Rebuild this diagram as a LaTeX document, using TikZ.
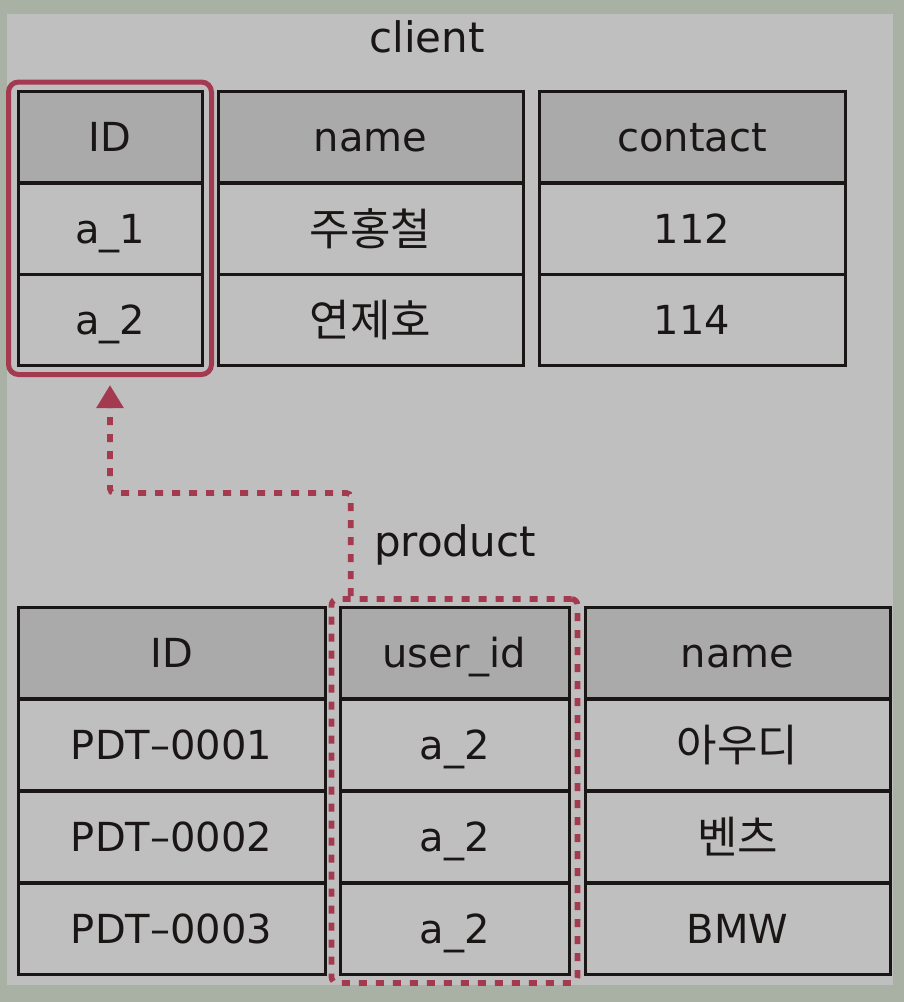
\documentclass[tikz,border=0pt]{standalone}
\usepackage{fontspec}
\setmainfont{DejaVu Sans}
\newfontfamily\kor[Scale=1.1]{Noto Sans CJK KR}
\newcommand{\hg}[1]{{\kor\raisebox{-1pt}{#1}}}
\usepackage{tikz}
\usetikzlibrary{arrows.meta,fit}
\definecolor{outerbg}{HTML}{A9B1A5}
\definecolor{innerbg}{HTML}{BFBFBF}
\definecolor{headbg}{HTML}{AAAAAA}
\definecolor{ink}{HTML}{1A1616}
\definecolor{keyred}{HTML}{A33A4F}

\begin{document}
\begin{tikzpicture}[>=Stealth,x=0.5pt,y=-0.5pt,
  font=\fontsize{20}{24}\selectfont,text=ink,
  cell/.style={draw=ink,line width=1.5pt,minimum height=45.5pt,inner sep=0pt,
    text height=17pt,text depth=2.4pt},
  head/.style={cell,fill=headbg},
  title/.style={font=\fontsize{21}{25}\selectfont},
  keybox/.style={draw=keyred,line width=2.5pt,rounded corners=5pt,inner sep=4pt},
  fkbox/.style={draw=keyred,line width=2.8pt,dash pattern=on 4pt off 4.5pt,
    rounded corners=3pt,inner sep=3.5pt},
  fklink/.style={keyred,line width=2.8pt,dash pattern=on 4pt off 4.5pt,
    rounded corners=2pt,-{Triangle[width=13pt,length=11.5pt]}}]
 \useasboundingbox (0,0) rectangle (904,1002);
 \fill[outerbg] (0,0) rectangle (904,1002);
 \fill[innerbg] (7,14) rectangle (893,985);

 % client
 \node[title] (client) at (427,37) {client};
 \foreach \col/\x/\w/\a/\b/\c in {id/110/184/ID/a\_1/a\_2,
   name/370.5/305/name/\hg{주홍철}/\hg{연제호},
   contact/692/306/contact/112/114}{
   \node[head,minimum width=\w*0.5pt] (c-\col-0) at (\x,137) {\a};
   \node[cell,minimum width=\w*0.5pt] (c-\col-1) at (\x,228.5) {\b};
   \node[cell,minimum width=\w*0.5pt] (c-\col-2) at (\x,319.5) {\c};}
 \node[keybox,fit=(c-id-0)(c-id-2)] (idbox) {};

 % product
 \node[title] (product) at (455,545) {product};
 \foreach \col/\x/\w/\a/\b/\c/\d in {id/171.5/307/ID/PDT--0001/PDT--0002/PDT--0003,
   uid/454.5/229/user\_id/a\_2/a\_2/a\_2,
   name/737.5/305/name/\hg{아우디}/\hg{벤츠}/BMW}{
   \node[head,minimum width=\w*0.5pt] (p-\col-0) at (\x,653) {\a};
   \node[cell,minimum width=\w*0.5pt] (p-\col-1) at (\x,745) {\b};
   \node[cell,minimum width=\w*0.5pt] (p-\col-2) at (\x,837) {\c};
   \node[cell,minimum width=\w*0.5pt] (p-\col-3) at (\x,929) {\d};}
 \node[fkbox,fit=(p-uid-0)(p-uid-3)] (uidbox) {};

 % foreign key
 \coordinate (bend) at (110,493);
 \draw[fklink] ([xshift=11pt]uidbox.north west) |- (bend)
   -- ([yshift=-4pt]idbox.south);
\end{tikzpicture}
\end{document}
